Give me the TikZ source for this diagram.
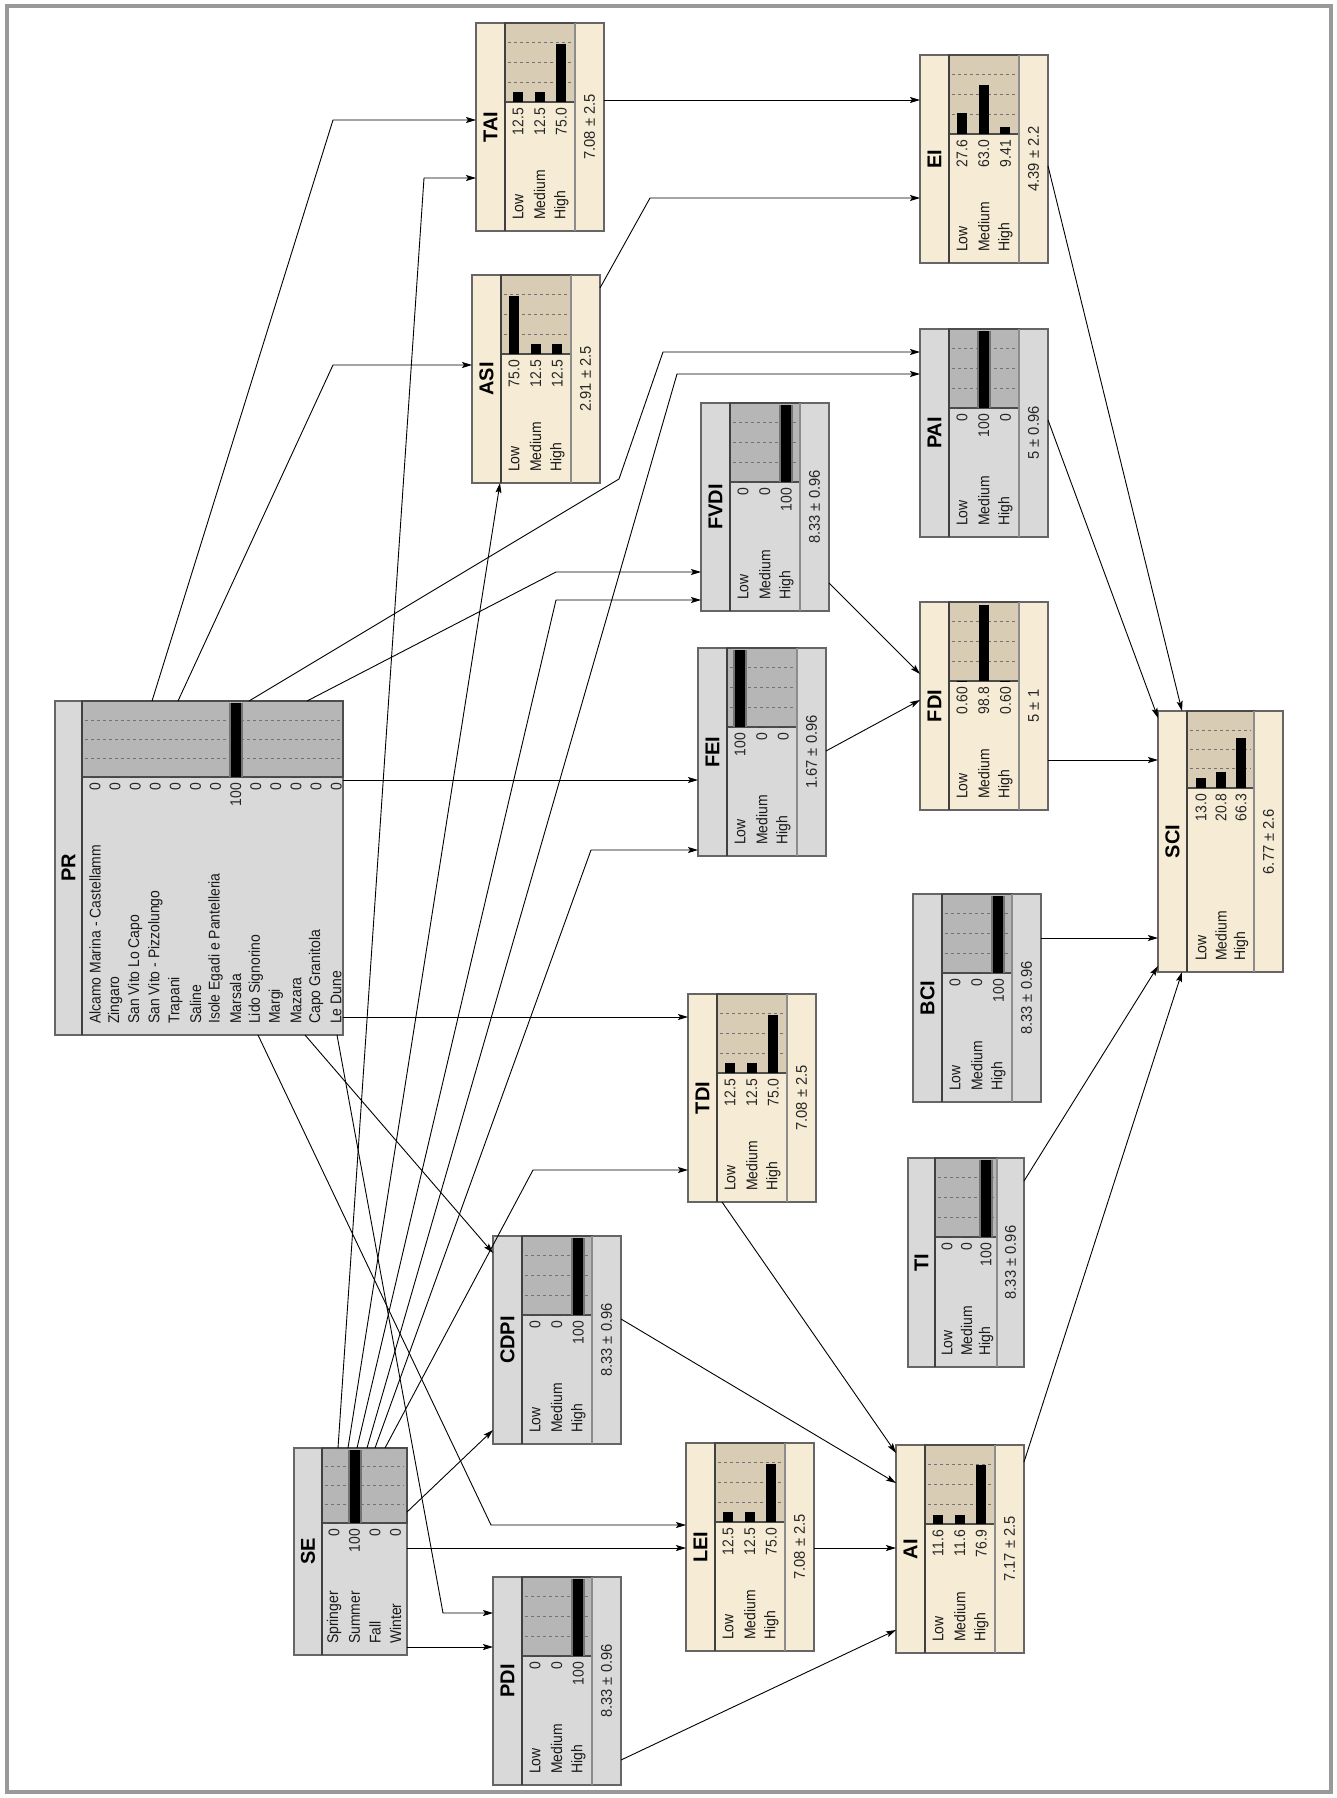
\documentclass[tikz,border=0pt]{standalone}
\usepackage{fontspec}
\setmainfont{Liberation Sans}
\newfontfamily\bnfont[FakeStretch=0.9]{Liberation Sans}
\newfontfamily\bnmeanfont[FakeStretch=0.95]{Liberation Sans}
\newfontfamily\bntitlefont{Liberation Sans}
\usetikzlibrary{arrows.meta}
\definecolor{tanL}{RGB}{246,236,213}
\definecolor{tanH}{RGB}{216,204,180}
\definecolor{greyL}{RGB}{217,217,217}
\definecolor{greyH}{RGB}{182,182,182}
\tikzset{
  bnbox/.style={draw=black!60,line width=1.3pt,inner sep=0pt,outer sep=0pt},
  tanbox/.style={fill=tanL}, greybox/.style={fill=greyL},
  tanhist/.style={fill=tanH}, greyhist/.style={fill=greyH},
  tanedge/.style={}, greyedge/.style={fill=black!55},
  histbox/.style={draw=black!70,line width=1.3pt},
  gridline/.style={draw=black!55,line width=1pt,dash pattern=on 3pt off 3pt},
  titlesep/.style={draw=black!75,line width=1.6pt},
  meansep/.style={draw=black!45,line width=1.2pt},
  statelabel/.style={rotate=90,anchor=west,inner sep=0pt,text=black!90,font=\bnfont\fontsize{15.5}{16}\selectfont},
  statevalue/.style={rotate=90,anchor=east,inner sep=0pt,text=black!85,font=\bnfont\fontsize{15.5}{16}\selectfont},
  titletext/.style={rotate=90,inner sep=0pt,font=\bntitlefont\fontsize{20}{22}\selectfont\bfseries},
  meantext/.style={rotate=90,inner sep=0pt,text=black!85,font=\bnmeanfont\fontsize{15.5}{16}\selectfont},
  link/.style={->,line width=0.9pt,line join=round},
  frame/.style={draw=black!40,line width=4pt}
}
% current node geometry: title strip, mean strip, histogram height, first row, row step
\def\bnT{29}\def\bnM{29}\def\bnH{79}\def\bnO{13}\def\bnS{21.7}
\newcommand{\bnstd}{\def\bnT{29}\def\bnM{29}\def\bnH{79}\def\bnO{13}\def\bnS{21.7}}
% #1 name, #2 left, #3 top, #4 width, #5 height, #6 tan/grey, #7 title, #8 states, #9 mean
\newcommand{\bnnode}[9]{%
  \node[bnbox,#6box,minimum width=#4pt,minimum height=#5pt,anchor=north west] (#1) at (#2,#3) {};
  \begin{scope}[shift={(#1.north west)}]
    \draw[histbox,#6hist] (\bnT,0) rectangle ({#4-\bnM},\bnH);
    \foreach \q in {0.25,0.5,0.75}
      \draw[gridline] ({\bnT+3},{\q*\bnH}) -- ({#4-\bnM-3},{\q*\bnH});
    \foreach \s/\p [count=\i] in {#8} {
      \pgfmathsetmacro\bnX{\bnT+\bnO+(\i-1)*\bnS}
      \path[#6edge] ({\bnX-7},\bnH) rectangle ({\bnX+7},{\bnH-\p*(\bnH-2)/100});
      \fill ({\bnX-5},\bnH) rectangle ({\bnX+5},{\bnH-\p*(\bnH-2)/100});
      \node[statelabel] at (\bnX,{#5-11}) {\s};
      \node[statevalue] at (\bnX,{\bnH+6}) {\p};
    }
    \draw[titlesep] (\bnT,0) -- (\bnT,#5);
    \ifdim\bnM pt>0pt
      \draw[meansep] ({#4-\bnM},0) -- ({#4-\bnM},#5);
      \node[meantext] at ({#4-\bnM/2},{#5/2}) {#9};
    \fi
    \node[titletext] at ({\bnT/2},{#5/2}) {#7};
  \end{scope}
}

\begin{document}
\begin{tikzpicture}[x=1pt,y=-1pt,>={Stealth[length=10pt,width=6pt,inset=2pt]}]
  \useasboundingbox (0,0) rectangle (1337,1798);
  \draw[frame] (7,6) rectangle (1331,1792);

  % Parent nodes
  \def\bnT{27}\def\bnM{0}\def\bnH{76}\def\bnO{13}\def\bnS{20.1}
  \bnnode{PR}{55}{701}{288}{334}{grey}{PR}{Alcamo Marina - Castellamm/0,Zingaro/0,San Vito Lo Capo/0,San Vito - Pizzolungo/0,Trapani/0,Saline/0,Isole Egadi e Pantelleria/0,Marsala/100,Lido Signorino/0,Margi/0,Mazara/0,Capo Granitola/0,Le Dune/0}{}
  \def\bnT{28}\def\bnM{0}\def\bnH{75}\def\bnO{12}\def\bnS{20.5}
  \bnnode{SE}{294}{1448}{113}{207}{grey}{SE}{Springer/0,Summer/100,Fall/0,Winter/0}{}

  % Indicator nodes
  \bnstd
  \bnnode{TAI}{476}{23}{128}{208}{tan}{TAI}{Low/12.5,Medium/12.5,High/75.0}{7.08 ± 2.5}
  \bnnode{ASI}{472}{275}{128}{208}{tan}{ASI}{Low/75.0,Medium/12.5,High/12.5}{2.91 ± 2.5}
  \bnnode{EI}{920}{55}{128}{208}{tan}{EI}{Low/27.6,Medium/63.0,High/9.41}{4.39 ± 2.2}
  \bnnode{PAI}{920}{329}{128}{208}{grey}{PAI}{Low/0,Medium/100,High/0}{5 ± 0.96}
  \bnnode{FVDI}{701}{403}{128}{208}{grey}{FVDI}{Low/0,Medium/0,High/100}{8.33 ± 0.96}
  \bnnode{FDI}{920}{602}{128}{208}{tan}{FDI}{Low/0.60,Medium/98.8,High/0.60}{5 ± 1}
  \bnnode{FEI}{698}{648}{128}{208}{grey}{FEI}{Low/100,Medium/0,High/0}{1.67 ± 0.96}
  \bnnode{BCI}{913}{894}{128}{208}{grey}{BCI}{Low/0,Medium/0,High/100}{8.33 ± 0.96}
  \bnnode{TDI}{688}{994}{128}{208}{tan}{TDI}{Low/12.5,Medium/12.5,High/75.0}{7.08 ± 2.5}
  \bnnode{CDPI}{493}{1236}{128}{208}{grey}{CDPI}{Low/0,Medium/0,High/100}{8.33 ± 0.96}
  \bnnode{LEI}{686}{1443}{128}{208}{tan}{LEI}{Low/12.5,Medium/12.5,High/75.0}{7.08 ± 2.5}
  \bnnode{AI}{896}{1445}{128}{208}{tan}{AI}{Low/11.6,Medium/11.6,High/76.9}{7.17 ± 2.5}
  \bnnode{PDI}{493}{1577}{128}{208}{grey}{PDI}{Low/0,Medium/0,High/100}{8.33 ± 0.96}
  \def\bnT{27}\def\bnM{27}\def\bnH{79}\def\bnO{12}\def\bnS{19.5}
  \bnnode{TI}{908}{1158}{116}{209}{grey}{TI}{Low/0,Medium/0,High/100}{8.33 ± 0.96}
  \def\bnT{29}\def\bnM{29}\def\bnH{77}\def\bnO{14}\def\bnS{20}
  \bnnode{SCI}{1158}{711}{125}{261}{tan}{SCI}{Low/13.0,Medium/20.8,High/66.3}{6.77 ± 2.6}

  % Links from PR
  \draw[link] (PR.north -| 152,0) -- (333,120) -- (TAI.west |- 333,120);
  \draw[link] (PR.north -| 178,0) -- (333,365) -- (ASI.west |- 333,365);
  \draw[link] (PR.north -| 249,0) -- (619,479) -- (663,352) -- (PAI.west |- 663,352);
  \draw[link] (PR.north -| 307,0) -- (556,572) -- (FVDI.west |- 556,572);
  \draw[link] (PR.east |- 0,780) -- (FEI.west |- 0,780);
  \draw[link] (PR.east |- 0,1017) -- (TDI.west |- 0,1017);
  \draw[link] (PR.south -| 305,0) -- (CDPI.west |- 0,1253);
  \draw[link] (PR.south -| 258,0) -- (491,1525) -- (LEI.west |- 491,1525);
  \draw[link] (PR.south -| 337,0) -- (443,1613) -- (PDI.west |- 443,1613);
  % Links from SE
  \draw[link] (SE.north -| 338,0) -- (424,178) -- (TAI.west |- 424,178);
  \draw[link] (SE.north -| 348,0) -- (ASI.south -| 500,0);
  \draw[link] (SE.north -| 357,0) -- (556,600) -- (FVDI.west |- 556,600);
  \draw[link] (SE.north -| 367,0) -- (677,374) -- (PAI.west |- 677,374);
  \draw[link] (SE.north -| 375,0) -- (591,850) -- (FEI.west |- 591,850);
  \draw[link] (SE.north -| 385,0) -- (533,1170) -- (TDI.west |- 533,1170);
  \draw[link] (SE.east |- 0,1512) -- (CDPI.west |- 0,1430);
  \draw[link] (SE.east |- 0,1548) -- (LEI.west |- 0,1548);
  \draw[link] (SE.east |- 0,1647) -- (PDI.west |- 0,1647);
  % Links between indicators
  \draw[link] (TAI.east |- 0,100) -- (EI.west |- 0,100);
  \draw[link] (ASI.east |- 0,288) -- (650,198) -- (EI.west |- 650,198);
  \draw[link] (FVDI.east |- 0,583) -- (FDI.west |- 0,674);
  \draw[link] (FEI.east |- 0,751) -- (FDI.west |- 0,700);
  \draw[link] (TDI.south -| 722,0) -- (AI.west |- 0,1453);
  \draw[link] (CDPI.east |- 0,1319) -- (AI.west |- 0,1483);
  \draw[link] (LEI.east |- 0,1548) -- (AI.west |- 0,1548);
  \draw[link] (PDI.east |- 0,1760) -- (AI.west |- 0,1630);
  % Links into SCI
  \draw[link] (EI.east |- 0,166) -- (SCI.north -| 1182,0);
  \draw[link] (PAI.east |- 0,420) -- (SCI.west |- 0,718);
  \draw[link] (FDI.east |- 0,760) -- (SCI.west |- 0,760);
  \draw[link] (BCI.east |- 0,938) -- (SCI.west |- 0,938);
  \draw[link] (TI.east |- 0,1181) -- (SCI.west |- 0,966);
  \draw[link] (AI.east |- 0,1462) -- (SCI.south -| 1182,0);
\end{tikzpicture}
\end{document}
